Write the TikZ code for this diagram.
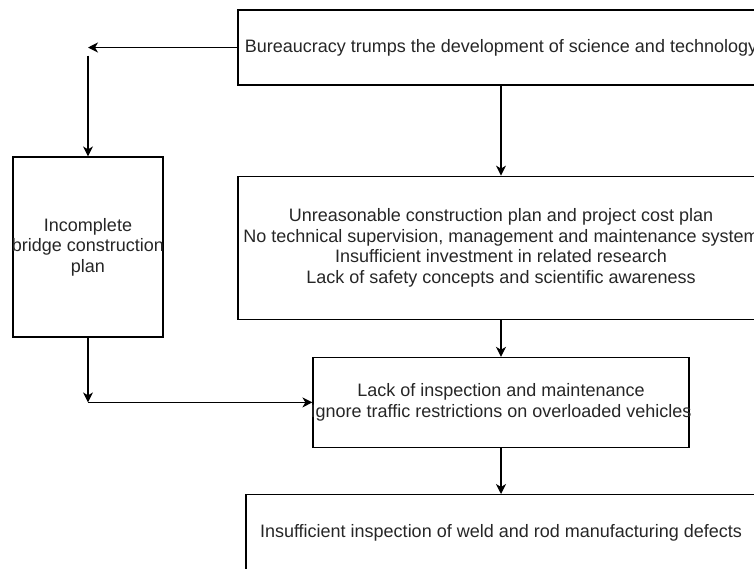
\documentclass[tikz,border=0pt]{standalone}
\usepackage{fontspec}
\setmainfont{Liberation Sans}
\usetikzlibrary{positioning, arrows.meta}
\tikzstyle{process} = [rectangle, text centered, align=center, draw=black, line width=1.2pt, inner xsep=-4pt, inner ysep=0pt, text=black!85]
\tikzstyle{arrow} = [line width=1.2pt,->,>={Stealth[length=10pt,width=10pt,inset=3pt]}]

\begin{document}
\begin{tikzpicture}[x=1pt, y=-1pt, font=\fontsize{18pt}{20.5pt}\selectfont]

    \clip (0,0) rectangle (754,568);

    \node (top) [process, minimum width=526pt, minimum height=75pt] at (501,47.5) {Bureaucracy trumps the development of science and technology};
    \node (cause) [process, minimum width=526pt, minimum height=143pt, below=90pt of top] {Unreasonable construction plan and project cost plan\\No technical supervision, management and maintenance system\\Insufficient investment in related research\\Lack of safety concepts and scientific awareness};
    \node (inspect) [process, minimum width=376pt, minimum height=90pt, below=37pt of cause] {Lack of inspection and maintenance\\Ignore traffic restrictions on overloaded vehicles};
    \node (defect) [process, minimum width=510pt, minimum height=100pt, text height=13pt, text depth=27pt, below=46pt of inspect] {Insufficient inspection of weld and rod manufacturing defects};
    \node (plan) [process, minimum width=150pt, minimum height=180pt] at (88,247) {Incomplete\\bridge construction\\plan};

    \coordinate (fork) at (plan.north |- top.west);
    \coordinate (forkgap) at ([yshift=-8pt]fork);
    \coordinate (join) at (plan.south |- inspect.west);

    \draw [arrow] (top.west) -- (fork);
    \draw [arrow] (forkgap) -- (plan);
    \draw [arrow] (top) -- (cause);
    \draw [arrow] (cause) -- (inspect);
    \draw [arrow] (plan) -- (join);
    \draw [arrow] (join) -- (inspect.west);
    \draw [arrow] (inspect) -- (defect);

  \end{tikzpicture}
\end{document}
